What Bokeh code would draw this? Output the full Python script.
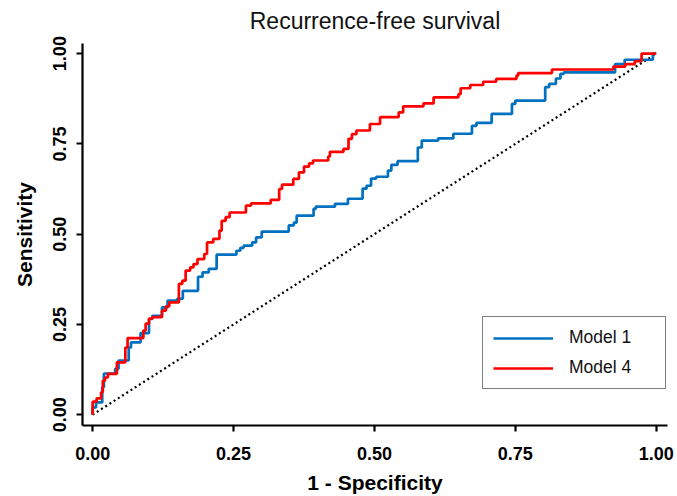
from bokeh.plotting import figure
from bokeh.models import Range1d, Legend, LegendItem, FixedTicker
from bokeh.embed import file_html
from bokeh.resources import INLINE

# ROC step points: (1 - specificity at the rise, sensitivity after the rise)
model1_fpr = [0.000, 0.000, 0.006, 0.017, 0.020, 0.040, 0.046, 0.064, 0.068, 0.085, 0.100, 0.106,
              0.123, 0.133, 0.150, 0.160, 0.187, 0.195, 0.206, 0.220, 0.255, 0.262, 0.268, 0.283,
              0.290, 0.300, 0.348, 0.357, 0.362, 0.392, 0.396, 0.430, 0.453, 0.479, 0.486, 0.494,
              0.503, 0.524, 0.530, 0.541, 0.577, 0.584, 0.613, 0.640, 0.673, 0.681, 0.708, 0.744,
              0.750, 0.803, 0.810, 0.822, 0.830, 0.836, 0.927, 0.944, 0.994, 1.000]
model1_tpr = [0.000, 0.020, 0.034, 0.076, 0.114, 0.127, 0.150, 0.186, 0.200, 0.226, 0.265, 0.274,
              0.297, 0.316, 0.321, 0.343, 0.382, 0.394, 0.404, 0.443, 0.454, 0.462, 0.468, 0.477,
              0.491, 0.507, 0.524, 0.532, 0.551, 0.570, 0.576, 0.584, 0.598, 0.626, 0.634, 0.654,
              0.659, 0.676, 0.692, 0.702, 0.740, 0.759, 0.765, 0.778, 0.800, 0.808, 0.833, 0.861,
              0.870, 0.907, 0.916, 0.931, 0.944, 0.948, 0.971, 0.983, 1.000, 1.000]

model4_fpr = [0.000, 0.000, 0.007, 0.015, 0.018, 0.022, 0.027, 0.043, 0.058, 0.062, 0.090, 0.094,
              0.100, 0.106, 0.123, 0.130, 0.136, 0.153, 0.159, 0.165, 0.173, 0.179, 0.186, 0.198,
              0.203, 0.214, 0.225, 0.229, 0.236, 0.243, 0.272, 0.281, 0.316, 0.331, 0.336, 0.356,
              0.366, 0.375, 0.384, 0.391, 0.418, 0.421, 0.445, 0.454, 0.460, 0.468, 0.492, 0.510,
              0.543, 0.551, 0.587, 0.605, 0.649, 0.653, 0.670, 0.693, 0.716, 0.752, 0.755, 0.815,
              0.924, 0.945, 0.962, 0.974, 1.000]
model4_tpr = [0.000, 0.036, 0.045, 0.062, 0.094, 0.103, 0.113, 0.145, 0.186, 0.212, 0.233, 0.252,
              0.266, 0.270, 0.288, 0.300, 0.311, 0.362, 0.371, 0.399, 0.408, 0.417, 0.431, 0.445,
              0.477, 0.487, 0.510, 0.537, 0.547, 0.560, 0.579, 0.585, 0.595, 0.625, 0.637, 0.653,
              0.671, 0.687, 0.696, 0.704, 0.715, 0.728, 0.736, 0.764, 0.777, 0.787, 0.805, 0.824,
              0.837, 0.854, 0.862, 0.879, 0.888, 0.904, 0.913, 0.922, 0.930, 0.939, 0.946, 0.956,
              0.964, 0.971, 0.979, 1.000, 1.000]

diag_x = [0.0, 1.0]
diag_y = [0.0, 1.0]

tick_values = [0.0, 0.25, 0.5, 0.75, 1.0]
tick_labels = {0.0: "0.00", 0.25: "0.25", 0.5: "0.50", 0.75: "0.75", 1.0: "1.00"}

title_text = "Recurrence-free survival"
x_label = "1 - Specificity"
y_label = "Sensitivity"
series_names = ["Model 1", "Model 4"]
series_colors = ["#0070C0", "#FF0000"]

p = figure(width=677, height=496, output_backend="svg", toolbar_location=None,
           x_range=Range1d(-0.018, 1.02), y_range=Range1d(-0.03, 1.028),
           min_border_left=82, min_border_right=10, min_border_top=43, min_border_bottom=71)

p.title.text = title_text
p.title.align = "center"
p.title.vertical_align = "top"
p.title.text_font = "Liberation Sans"
p.title.text_font_size = "23px"
p.title.text_font_style = "normal"
p.title.text_color = "#111111"
p.title.standoff = 15

p.outline_line_color = None
p.xgrid.visible = False
p.ygrid.visible = False
p.background_fill_color = "white"
p.border_fill_color = "white"

label_font = "'Liberation Sans Narrow', 'Liberation Sans'"
for ax in (p.xaxis[0], p.yaxis[0]):
    ax.ticker = FixedTicker(ticks=tick_values)
    ax.major_label_overrides = tick_labels
    ax.axis_line_width = 2.2
    ax.axis_line_color = "black"
    ax.major_tick_line_width = 2.2
    ax.major_tick_line_color = "black"
    ax.major_tick_out = 6
    ax.major_tick_in = 0
    ax.minor_tick_line_color = None
    ax.major_label_text_font = label_font
    ax.major_label_text_font_style = "bold"
    ax.major_label_text_font_size = "18px"
    ax.major_label_text_color = "black"
    ax.axis_label_text_font = label_font
    ax.axis_label_text_font_style = "bold"
    ax.axis_label_text_font_size = "21px"
    ax.axis_label_text_color = "black"

p.xaxis.axis_label = x_label
p.yaxis.axis_label = y_label
p.xaxis.major_label_standoff = 15
p.yaxis.major_label_standoff = 10
p.yaxis.major_label_orientation = "vertical"
p.xaxis.axis_label_standoff = 8
p.yaxis.axis_label_standoff = 15

p.line(diag_x, diag_y, line_color="black", line_width=2.2, line_dash="2 3")
r1 = p.step(model1_fpr, model1_tpr, mode="after", line_color=series_colors[0], line_width=2.7)
r4 = p.step(model4_fpr, model4_tpr, mode="after", line_color=series_colors[1], line_width=2.7)

legend = Legend(items=[LegendItem(label=series_names[0], renderers=[r1]),
                       LegendItem(label=series_names[1], renderers=[r4])],
                location=(400, 36), orientation="vertical")
legend.border_line_color = "black"
legend.border_line_width = 1.5
legend.background_fill_alpha = 1
legend.padding = 10
legend.spacing = 9
legend.glyph_width = 60
legend.glyph_height = 20
legend.label_height = 20
legend.label_standoff = 16
legend.label_width = 86
legend.label_text_font = "Liberation Sans"
legend.label_text_font_size = "17.5px"
legend.label_text_color = "#111111"
legend.margin = 0
p.add_layout(legend, "center")

open("out.html", "w").write(file_html(p, INLINE))
